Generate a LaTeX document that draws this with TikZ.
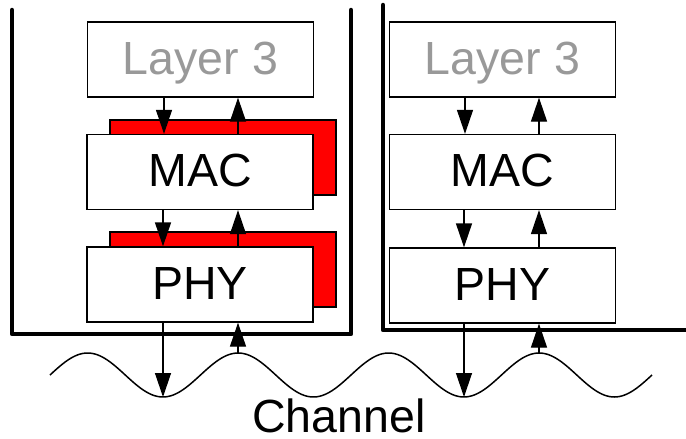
\documentclass[tikz,border=0pt]{standalone}
\usepackage{fontspec}
\setmainfont{Liberation Sans}
\usetikzlibrary{arrows.meta}
\definecolor{lgray}{RGB}{153,153,153}
\begin{document}
\begin{tikzpicture}[x=1pt,y=-1pt,
 box/.style={draw=black, line width=1.3pt, fill=white, minimum width=226pt, minimum height=75pt, inner sep=0pt, text height=33pt, text depth=4pt, font=\fontsize{46.5}{50}\selectfont},
 shadowbox/.style={draw=black, line width=1.3pt, fill=red, minimum width=226pt, minimum height=75pt, inner sep=0pt},
 arr/.style={line width=1.3pt, -{Triangle[length=24pt,width=16pt]}},
 wall/.style={line width=4.5pt, line join=round, line cap=round},
 wave/.style={line width=1.5pt}]
\useasboundingbox (0,0) rectangle (686,439);
% left stack
\node[shadowbox] (macsh) at (223,157.5) {};
\node[box] (lmac) at (200,172) {MAC};
\node[shadowbox] (physh) at (223,269.5) {};
\node[box] (lphy) at (200,284.5) {PHY};
\node[box, text=lgray] (ll3) at (200.5,59.5) {Layer 3};
% right stack
\node[box, text=lgray] (rl3) at (502.5,59.5) {Layer 3};
\node[box] (rmac) at (502.5,172) {MAC};
\node[box] (rphy) at (502.5,285.5) {PHY};
% walls
\draw[wall] (12,10) -- (12,334) -- (351,334) -- (351,10);
\draw[wall] (383,5) -- (383,330) -- (692,330);
% channel wave
\draw[wave] plot[domain=50:652, samples=240, smooth] (\x, {375 - 22*sin(2.39203*(\x-50))});
\coordinate (lt) at (163,397);
\coordinate (lc) at (238,353);
\coordinate (rt) at (464,397);
\coordinate (rc) at (539,353);
\node[font=\fontsize{46.5}{50}\selectfont, anchor=base, inner sep=0pt] (chan) at (339,432) {Channel};
% x positions
\coordinate (ld) at (164,0);
\coordinate (lu) at (238,0);
\coordinate (rd) at (465,0);
\coordinate (ru) at (539,0);
% left arrows
\draw[arr] (ll3.south -| ld) -- (lmac.north -| ld);
\draw[arr] (lmac.north -| lu) -- (ll3.south -| lu);
\draw[arr] (lmac.south -| lt) -- (lphy.north -| lt);
\draw[arr] (lphy.north -| lu) -- (lmac.south -| lu);
\draw[arr] (lphy.south -| lt) -- (lt);
\draw[arr] (lc) -- (lphy.south -| lc);
% right arrows
\draw[arr] (rl3.south -| rd) -- (rmac.north -| rd);
\draw[arr] (rmac.north -| ru) -- (rl3.south -| ru);
\draw[arr] (rmac.south -| rt) -- (rphy.north -| rt);
\draw[arr] (rphy.north -| ru) -- (rmac.south -| ru);
\draw[arr] (rphy.south -| rt) -- (rt);
\draw[arr] (rc) -- (rphy.south -| rc);
\end{tikzpicture}
\end{document}
